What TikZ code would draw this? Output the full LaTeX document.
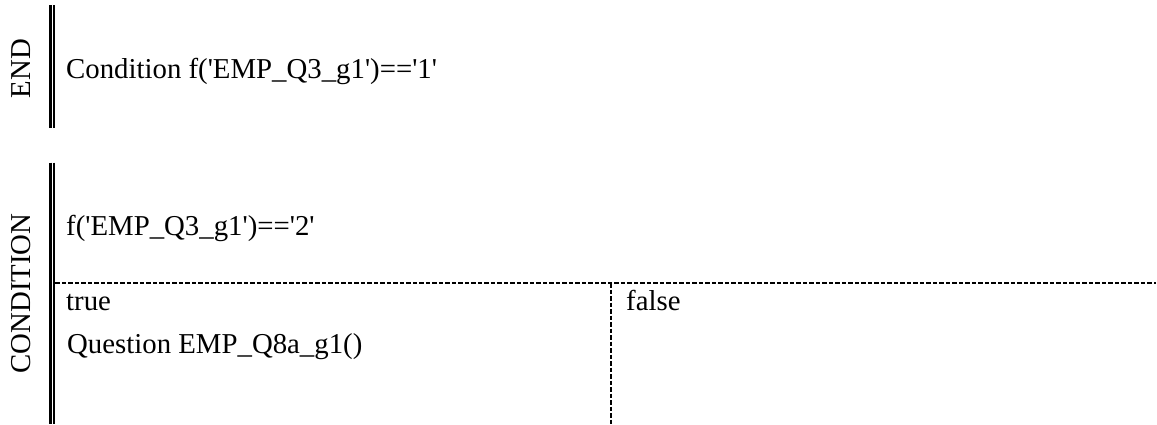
\documentclass[tikz,border=0pt]{standalone}
\usepackage{fontspec}
\setmainfont{Liberation Serif}
\newcommand{\myq}{\textquotesingle}
\begin{document}
\begin{tikzpicture}[x=1pt,y=-1pt,
  txt/.style={anchor=base west,inner sep=0pt,font=\fontsize{28.8}{34}\selectfont},
  lbl/.style={rotate=90,anchor=base,inner sep=0pt,font=\fontsize{28.8}{34}\selectfont},
  thickbar/.style={line width=2.7pt},
  thinbar/.style={line width=2pt},
  sep/.style={line width=2pt,dash pattern=on 4.5pt off 2pt}]
\useasboundingbox (0,0) rectangle (1157,424);
% END block
\node[lbl] (endlbl) at (30,68.5) {END};
\coordinate (e1t) at (50.3,5);
\coordinate (e1b) at (50.3,128);
\coordinate (e2t) at (54.3,5);
\coordinate (e2b) at (54.3,128);
\draw[thickbar] (e1t) -- (e1b);
\draw[thinbar] (e2t) -- (e2b);
\node[txt] (endtxt) at (66,78.5) {Condition f(\myq EMP\_Q3\_g1\myq)==\myq 1\myq};
% CONDITION block
\node[lbl] (condlbl) at (30,293.5) {CONDITION};
\coordinate (c1t) at (50.3,162.7);
\coordinate (c1b) at (50.3,424);
\coordinate (c2t) at (54.3,162.7);
\coordinate (c2b) at (54.3,424);
\draw[thickbar] (c1t) -- (c1b);
\draw[thinbar] (c2t) -- (c2b);
\node[txt] (condtxt) at (66,235) {f(\myq EMP\_Q3\_g1\myq)==\myq 2\myq};
\coordinate (hl) at (55.3,283);
\coordinate (hr) at (1156,283);
\coordinate (vt) at (610.7,283);
\coordinate (vb) at (610.7,424);
\draw[sep] (hl) -- (hr);
\draw[sep] (vt) -- (vb);
\node[txt] (truetxt) at (66,310.5) {true};
\node[txt] (qtxt) at (67,353) {Question EMP\_Q8a\_g1()};
\node[txt] (falsetxt) at (626,310.5) {false};
\end{tikzpicture}
\end{document}
